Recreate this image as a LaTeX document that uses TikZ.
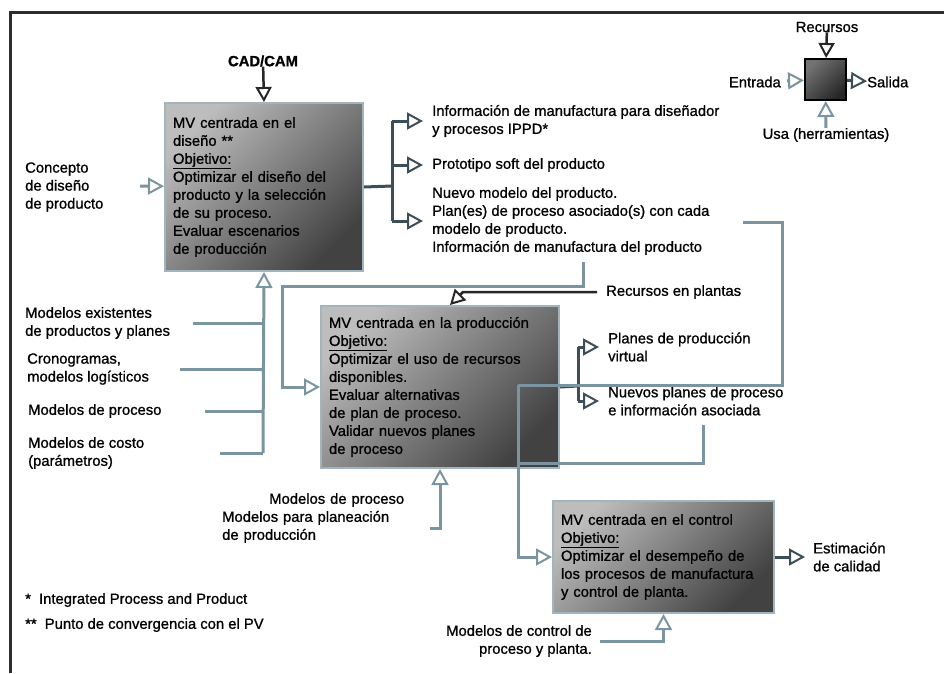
\documentclass[tikz,border=0pt]{standalone}
\usepackage{fontspec}
\setmainfont{Liberation Sans}[FakeBold=1]
\usepackage{tikz}
\usetikzlibrary{arrows.meta}
\definecolor{azulc}{RGB}{122,148,160}
\definecolor{azulo}{RGB}{60,78,88}
\definecolor{marcoc}{RGB}{45,45,45}
\newcommand{\fs}{\fontsize{14.8}{18}\selectfont}
\tikzset{
  mv/.style={draw=azulc!70,line width=2pt,top color=black!26,bottom color=black!74,shading angle=45,align=left,inner xsep=8pt,inner ysep=9pt,anchor=north west,font=\fs},
  txt/.style={inner sep=0pt,align=left,font=\fs},
  lin/.style={line width=3pt,azulc},
  lino/.style={line width=3pt,azulo},
  ent/.style={lin,-{Triangle[length=16pt,width=17pt,fill=white,line width=2pt]}},
  sal/.style={lino,-{Triangle[length=16pt,width=17pt,fill=white,line width=2pt]}},
  rec/.style={line width=2.5pt,black!85,-{Triangle[length=15pt,width=16pt,fill=white,line width=2pt]}},
}

\begin{document}
\begin{tikzpicture}[x=1pt,y=-1pt]
  \useasboundingbox (0,0) rectangle (944,673);
  \draw[line width=3pt,marcoc] (10,673) -- (10,12) -- (944,12);
  % the three MV blocks
  \node[mv,text width=182pt,minimum height=168pt] (disenio) at (164,102)
    {MV centrada en el\\diseño **\\\underline{Objetivo:}\\Optimizar el diseño del\\producto y la selección\\de su proceso.\\Evaluar escenarios\\de producción};
  \node[mv,text width=222pt,minimum height=162pt] (produccion) at (320,305)
    {MV centrada en la producción\\\underline{Objetivo:}\\Optimizar el uso de recursos\\disponibles.\\Evaluar alternativas\\de plan de proceso.\\Validar nuevos planes\\de proceso};
  \node[mv,text width=205pt,minimum height=112pt] (control) at (552,500)
    {MV centrada en el control\\\underline{Objetivo:}\\Optimizar el desempeño de\\los procesos de manufactura\\y control de planta.};
  % legend
  \node[draw=black,line width=2pt,top color=black!55,bottom color=black!85,shading angle=45,minimum size=41pt,inner sep=0pt] (leyenda) at (825.5,79.5) {};
  \node[txt] (recl) at (827,27) {Recursos};
  \node[txt,anchor=east] (entl) at (781,82) {Entrada};
  \node[txt,anchor=west] (sall) at (867,82) {Salida};
  \node[txt] (usal) at (826,135) {Usa (herramientas)};
  \draw[rec] (recl) -- (leyenda);
  \draw[ent,shorten <=6pt] (entl) -- (leyenda);
  \draw[sal] (leyenda) -- (sall);
  \draw[ent] (usal) -- (leyenda);
  % design block: inputs
  \node[txt,font=\fs\bfseries] (cad) at (263,61) {CAD/CAM};
  \draw[rec] (cad) -- (disenio.north);
  \node[txt,anchor=west] (concepto) at (25,187) {Concepto\\de diseño\\de producto};
  \coordinate (cc) at (140,186);
  \draw[ent] (cc) -- (disenio);
  \node[txt,anchor=west] (mexist) at (25,323) {Modelos existentes\\de productos y planes};
  \node[txt,anchor=west] (crono) at (27,369) {Cronogramas,\\modelos logísticos};
  \node[txt,anchor=west] (mproc) at (28,411) {Modelos de proceso};
  \node[txt,anchor=west] (mcosto) at (28,453) {Modelos de costo\\(parámetros)};
  \coordinate (col) at (263,453);
  \draw[ent] (col) -- (disenio.south);
  \foreach \n/\x in {mexist/193,crono/180,mproc/205,mcosto/220}
    \draw[lin] (\n.east -| \x,0) -- (\n.east -| col);
  % design block: outputs
  \coordinate (r1) at (392,186);
  \node[txt,anchor=west] (info) at (432,121) {Información de manufactura para diseñador\\y procesos IPPD*};
  \node[txt,anchor=west] (proto) at (432,165) {Prototipo soft del producto};
  \node[txt,anchor=west] (nuevo) at (432,221) {Nuevo modelo del producto.\\Plan(es) de proceso asociado(s) con cada\\modelo de producto.\\Información de manufactura del producto};
  \draw[lino] (disenio.east) -- (r1);
  \draw[lino] (r1 |- info) -- (r1 |- nuevo);
  \foreach \n in {info,proto,nuevo}
    \draw[sal,shorten >=9pt] (r1 |- \n) -- (\n.west);
  % feedback into production
  \coordinate (fb1) at (583,262);
  \coordinate (fb2) at (282,286);
  \draw[ent] (fb1) |- (fb2) |- (produccion.west);
  \node[txt,anchor=west] (rplan) at (606,292) {Recursos en plantas};
  \coordinate (rp) at (463,292);
  \draw[rec,shorten <=9pt] (rplan) -- (rp) -- (produccion.north -| 450,0);
  \node[txt,text width=182pt,anchor=west] (mplan) at (222,518)
    {\makebox[\linewidth][r]{Modelos de proceso}\\Modelos para planeación\\de producción};
  \coordinate (mp) at (430,528);
  \draw[ent] (mp) -| (produccion.south);
  % production outputs
  \coordinate (r2) at (578,386);
  \node[txt,anchor=west] (pvirt) at (608,347) {Planes de producción\\virtual};
  \node[txt,anchor=west] (npp) at (608,401) {Nuevos planes de proceso\\e información asociada};
  \draw[lino] (produccion.east) -- (r2);
  \draw[lino] (r2 |- pvirt) -- (r2 |- npp);
  \foreach \n in {pvirt,npp}
    \draw[sal,shorten >=9pt] (r2 |- \n) -- (\n.west);
  % into control block
  \coordinate (k1) at (518,385);
  \coordinate (k2) at (518,463);
  \coordinate (ol) at (743,222);
  \coordinate (ol2) at (782,385);
  \coordinate (nl) at (703,425);
  \draw[lin] (ol) -| (ol2) -- (k1);
  \draw[lin] (nl) |- (k2);
  \draw[ent] (k1) |- (control.west);
  \node[txt,anchor=west] (estim) at (813,557) {Estimación\\de calidad};
  \draw[sal,shorten >=8pt] (control.east) -- (estim.west);
  \node[txt,align=right,anchor=east] (mctrl) at (592,641) {Modelos de control de\\proceso y planta.};
  \draw[ent,shorten <=8pt] (mctrl.east) -| (control.south);
  % footnotes
  \node[txt,anchor=west] (nota1) at (25,600) {*\hspace{4pt} Integrated Process and Product};
  \node[txt,anchor=west] (nota2) at (25,625) {**\hspace{4pt} Punto de convergencia con el PV};
\end{tikzpicture}
\end{document}
